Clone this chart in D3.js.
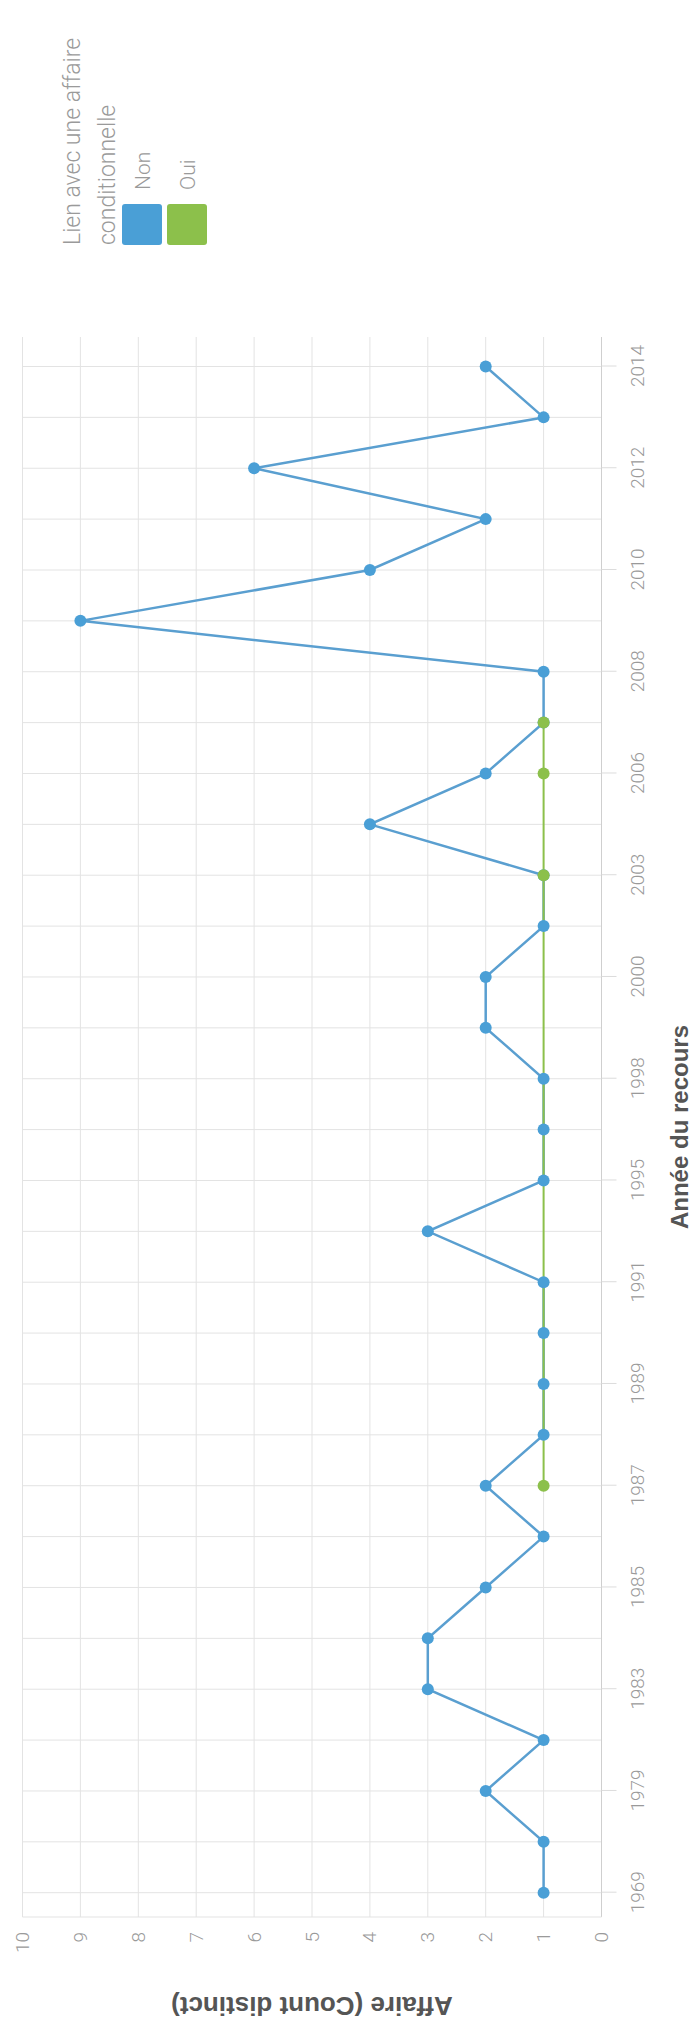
<!DOCTYPE html>
<html>
<head>
<meta charset="utf-8">
<script src="https://cdn.jsdelivr.net/npm/d3@7"></script>
<style>
  body { margin: 0; background: #fff; }
  text { font-family: Roboto, "Open Sans", sans-serif; }
</style>
</head>
<body>
<div id="chart"></div>
<script>
// data (category order left to right in the unrotated chart)
var years = ["1969","1976","1979","1981","1983","1984","1985","1986","1987","1988",
             "1989","1990","1991","1993","1995","1996","1998","1999","2000","2001",
             "2003","2004","2006","2007","2008","2009","2010","2011","2012","2013","2014"];
var nonValues = [1,1,2,1,3,3,2,1,2,1, 1,1,1,3,1,1,1,2,2,1, 1,4,2,1,1,9,4,2,6,1,2];
var ouiYears = ["1987","2003","2006","2007"];
var ouiValues = [1,1,1,1];
var labeledYears = ["1969","1979","1983","1985","1987","1989","1991","1995","1998",
                    "2000","2003","2006","2008","2010","2012","2014"];
var valueTicks = [0,1,2,3,4,5,6,7,8,9,10];
var legendKeys = ["Non", "Oui"];

var colors = {Non: "#4a9fd6", Oui: "#8cc04b"};

// page is 693 x 2028, the whole chart is drawn turned a quarter left
var pageW = 693, pageH = 2028;

var svg = d3.select("#chart")
  .append("svg")
    .attr("width", pageW)
    .attr("height", pageH);

var g = svg.append("g")
    .attr("transform", "translate(0," + pageH + ") rotate(-90)");

// scales in the unrotated frame (width 2028, height 693)
var plotLeft = 111, plotRight = 1691;
var x = d3.scalePoint()
    .domain(years)
    .range([135.3, 1661.5]);
var y = d3.scaleLinear()
    .domain([0, 10])
    .range([601.5, 22.5]);

// grid: one line per category
g.append("g").selectAll("line")
  .data(years)
  .enter()
  .append("line")
    .attr("x1", function(d){ return x(d); })
    .attr("x2", function(d){ return x(d); })
    .attr("y1", y(10))
    .attr("y2", y(0))
    .attr("stroke", "#e3e3e3")
    .attr("stroke-width", 1);

// grid: one line per value tick
g.append("g").selectAll("line")
  .data(valueTicks)
  .enter()
  .append("line")
    .attr("x1", plotLeft)
    .attr("x2", plotRight)
    .attr("y1", function(d){ return y(d); })
    .attr("y2", function(d){ return y(d); })
    .attr("stroke", function(d){ return d === 0 ? "#cfcfcf" : "#e3e3e3"; })
    .attr("stroke-width", 1);

// left border of the plot
g.append("line")
    .attr("x1", plotLeft).attr("x2", plotLeft)
    .attr("y1", y(10)).attr("y2", y(0))
    .attr("stroke", "#e3e3e3");

// x axis (years)
var xAxis = g.append("g")
    .attr("transform", "translate(0," + y(0) + ")")
    .call(d3.axisBottom(x).tickValues(labeledYears).tickSize(15).tickPadding(14));
xAxis.select(".domain").remove();
xAxis.selectAll("line").attr("stroke", "#dcdcdc");
xAxis.selectAll("text")
    .style("font-family", "Roboto")
    .style("font-weight", 300)
    .style("font-size", "19px")
    .attr("fill", "#9a9a9a");

// y axis (values)
var yAxis = g.append("g")
    .attr("transform", "translate(" + plotLeft + ",0)")
    .call(d3.axisLeft(y).tickValues(valueTicks).tickSize(0).tickPadding(15));
yAxis.select(".domain").remove();
yAxis.selectAll("text")
    .style("font-family", "Roboto")
    .style("font-weight", 300)
    .style("font-size", "19px")
    .attr("fill", "#9a9a9a");

// lines
var line = d3.line()
    .x(function(d){ return x(d.year); })
    .y(function(d){ return y(d.value); });

var nonData = years.map(function(d, i){ return {year: d, value: nonValues[i]}; });
var ouiData = ouiYears.map(function(d, i){ return {year: d, value: ouiValues[i]}; });

g.append("path")
    .datum(nonData)
    .attr("d", line)
    .attr("fill", "none")
    .attr("stroke", "#5a9fd0")
    .attr("stroke-width", 2.5);

g.append("path")
    .datum(ouiData)
    .attr("d", line)
    .attr("fill", "none")
    .attr("stroke", colors.Oui)
    .attr("stroke-width", 2);

// points
g.append("g").selectAll("circle")
  .data(nonData)
  .enter()
  .append("circle")
    .attr("cx", function(d){ return x(d.year); })
    .attr("cy", function(d){ return y(d.value); })
    .attr("r", 6)
    .attr("fill", colors.Non);

g.append("g").selectAll("circle")
  .data(ouiData)
  .enter()
  .append("circle")
    .attr("cx", function(d){ return x(d.year); })
    .attr("cy", function(d){ return y(d.value); })
    .attr("r", 6)
    .attr("fill", colors.Oui);

// axis titles
g.append("text")
    .attr("x", (plotLeft + plotRight) / 2)
    .attr("y", 688)
    .attr("text-anchor", "middle")
    .style("font-family", "'Liberation Sans', Arial, sans-serif")
    .style("font-size", "24px")
    .style("font-weight", "bold")
    .attr("fill", "#555")
    .text("Année du recours");

g.append("text")
    .attr("transform", "translate(31," + (y(0) + y(10)) / 2 + ") rotate(-90)")
    .attr("text-anchor", "middle")
    .style("font-family", "'Liberation Sans', Arial, sans-serif")
    .style("font-size", "26px")
    .style("font-weight", "bold")
    .attr("fill", "#555")
    .text("Affaire (Count distinct)");

// legend
var legend = g.append("g").attr("transform", "translate(1783,0)");
legend.append("text")
    .attr("x", 0).attr("y", 80)
    .style("font-size", "23px").style("font-weight", 300)
    .attr("fill", "#9a9a9a")
    .text("Lien avec une affaire");
legend.append("text")
    .attr("x", 0).attr("y", 115)
    .style("font-size", "23px").style("font-weight", 300)
    .attr("fill", "#9a9a9a")
    .text("conditionnelle");

var items = legend.selectAll(".item")
  .data(legendKeys)
  .enter()
  .append("g")
    .attr("class", "item")
    .attr("transform", function(d, i){ return "translate(0," + (122 + i * 45) + ")"; });
items.append("rect")
    .attr("width", 41).attr("height", 40)
    .attr("rx", 3)
    .attr("fill", function(d){ return colors[d]; });
items.append("text")
    .attr("x", 55).attr("y", 28)
    .style("font-size", "21px").style("font-weight", 300)
    .attr("fill", "#9a9a9a")
    .text(function(d){ return d; });
</script>
</body>
</html>
